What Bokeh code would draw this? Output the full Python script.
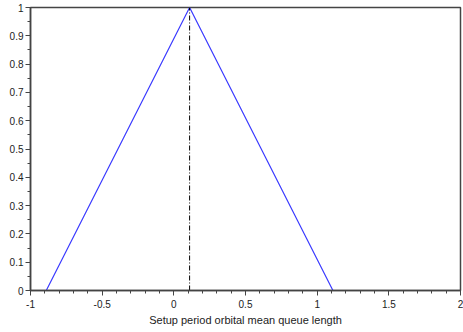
from bokeh.plotting import figure
from bokeh.models import Range1d, FixedTicker, CustomJSTickFormatter
from bokeh.embed import file_html
from bokeh.resources import INLINE

# Triangular membership function
tri_x = [-0.89, 0.11, 1.11]
tri_y = [0.0, 1.0, 0.0]
peak_x = 0.11

x_ticks = [-1, -0.5, 0, 0.5, 1, 1.5, 2]
y_ticks = [0, 0.1, 0.2, 0.3, 0.4, 0.5, 0.6, 0.7, 0.8, 0.9, 1]
x_minor = [-1 + 0.1 * i for i in range(31)]
y_minor = [0.05 * i for i in range(21)]

p = figure(width=463, height=332, output_backend="svg", toolbar_location=None,
           x_range=Range1d(-1, 2), y_range=Range1d(0, 1),
           min_border_left=30, min_border_right=3, min_border_top=7, min_border_bottom=42)

p.line(tri_x, tri_y, line_color="#3a3aff", line_width=1.2)
p.line([peak_x, peak_x], [0, 1], line_color="black", line_width=1, line_dash="5 2 1 2")

fmt = CustomJSTickFormatter(code="return String(Math.round(tick*100)/100);")
p.xaxis.ticker = FixedTicker(ticks=x_ticks, minor_ticks=x_minor)
p.yaxis.ticker = FixedTicker(ticks=y_ticks, minor_ticks=y_minor)
p.xaxis.formatter = fmt
p.yaxis.formatter = fmt

p.xaxis.axis_label = "Setup period orbital mean queue length"
for ax in (p.xaxis, p.yaxis):
    ax.axis_line_color = "#444444"
    ax.axis_line_width = 1.5
    ax.major_tick_line_color = "#444444"
    ax.minor_tick_line_color = "#444444"
    ax.major_tick_in = 0
    ax.major_tick_out = 5
    ax.minor_tick_in = 0
    ax.minor_tick_out = 3
    ax.major_label_text_font = "Liberation Sans"
    ax.major_label_text_font_size = "10px"
    ax.major_label_text_color = "#222222"
p.xaxis.major_label_standoff = 4
p.yaxis.major_label_standoff = 2
p.xaxis.axis_label_text_font = "Liberation Sans"
p.xaxis.axis_label_text_font_size = "11px"
p.xaxis.axis_label_text_font_style = "normal"
p.xaxis.axis_label_text_color = "#222222"
p.xaxis.axis_label_standoff = 3

p.xgrid.visible = False
p.ygrid.visible = False
p.outline_line_color = "#444444"
p.outline_line_width = 1.5
p.background_fill_color = "white"
p.border_fill_color = "white"

open("out.html", "w").write(file_html(p, INLINE))
